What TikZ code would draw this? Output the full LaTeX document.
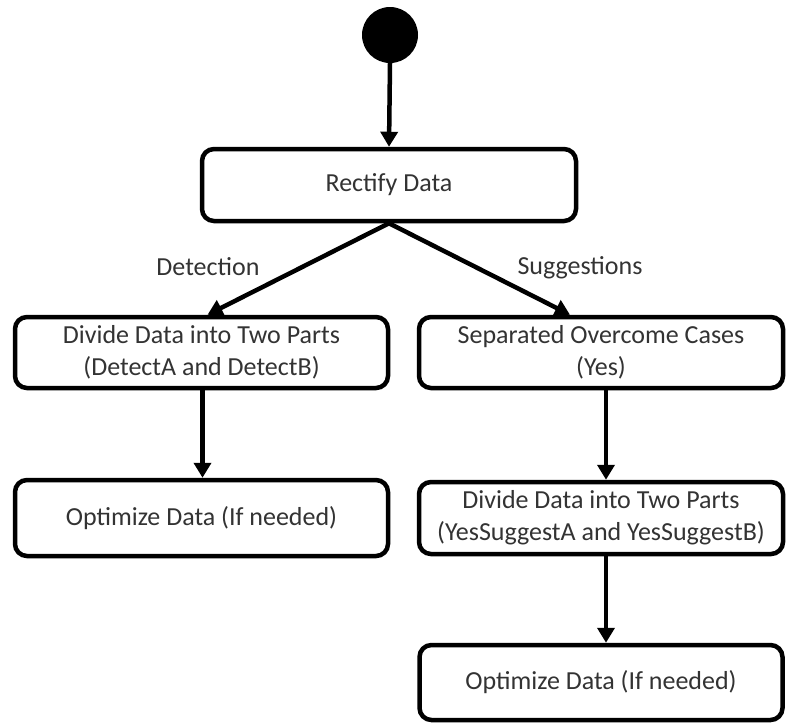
\documentclass[tikz,border=0pt]{standalone}
\usepackage{fontspec}
\setmainfont{Carlito}
\usetikzlibrary{arrows.meta}
\tikzset{
  actbox/.style={draw=black, line width=4.5pt, rounded corners=12pt, fill=white,
    align=center, text=black!80, inner sep=0pt,
    font=\fontsize{26}{32}\selectfont},
  flow/.style={line width=4.5pt, -{Triangle[width=17pt,length=15pt]}},
  guard/.style={text=black!80, font=\fontsize{26}{32}\selectfont, inner sep=0pt},
}
\begin{document}
\begin{tikzpicture}[x=1pt,y=-1pt]
  \useasboundingbox (0,0) rectangle (787,724);

  % initial state
  \node (start) [circle, fill=black, minimum size=56pt, inner sep=0pt] at (390,35) {};

  % activities
  \node (rect) [actbox, minimum width=374pt, minimum height=72pt] at (389,185) {Rectify Data};
  \node (divA) [actbox, minimum width=373pt, minimum height=71pt] at (201.5,352.5)
    {Divide Data into Two Parts\\(DetectA and DetectB)};
  \node (sep)  [actbox, minimum width=364pt, minimum height=71pt] at (601,352.5)
    {Separated Overcome Cases\\(Yes)};
  \node (optA) [actbox, minimum width=373pt, minimum height=76pt] at (201.5,518)
    {Optimize Data (If needed)};
  \node (divY) [actbox, minimum width=364pt, minimum height=72pt] at (601,518)
    {Divide Data into Two Parts\\(YesSuggestA and YesSuggestB)};
  \node (optY) [actbox, minimum width=363pt, minimum height=75pt] at (601,682.5)
    {Optimize Data (If needed)};

  % guards
  \node (gdet) [guard] at (208,267) {Detection};
  \node (gsug) [guard] at (580,268) {Suggestions};

  % transitions
  \draw[flow] (start.south) -- (rect.north);
  \draw[flow] (rect.south) -- ([xshift=6pt]divA.north);
  \draw[flow] (rect.south) -- ([xshift=-31pt]sep.north);
  \draw[flow] ([xshift=1pt]divA.south) -- ([xshift=1pt]optA.north);
  \draw[flow] ([xshift=5pt]sep.south) -- ([xshift=5pt]divY.north);
  \draw[flow] ([xshift=5pt]divY.south) -- ([xshift=5pt]optY.north);
\end{tikzpicture}
\end{document}
